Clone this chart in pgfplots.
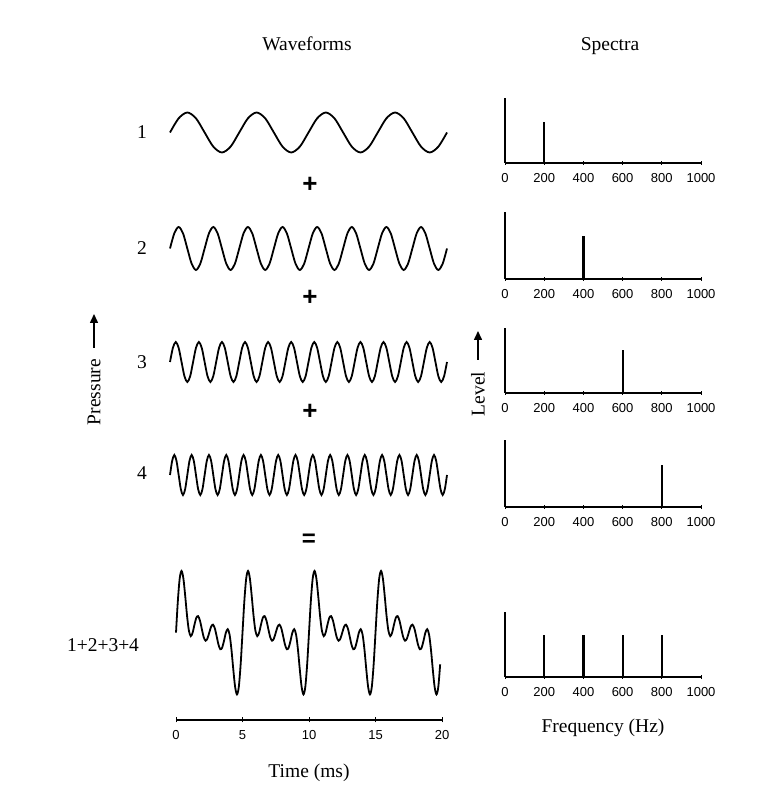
\documentclass[border=0pt]{standalone}
\usepackage{fontspec}
\setmainfont{Liberation Serif}
\newfontfamily\tickfont{Liberation Sans}
\usepackage{pgfplots}
\pgfplotsset{compat=1.18}
\usetikzlibrary{arrows.meta}

\newcommand\lbl{\fontsize{19.5}{22}\selectfont}
\newcommand\ticks{\tickfont\fontsize{13}{13}\selectfont}

\pgfplotsset{
  wave/.style={hide axis, scale only axis, width=277pt, height=40pt,
    xmin=0, ymin=-1, ymax=1, clip=false, anchor=south west},
  wline/.style={black, line width=1.8pt, smooth, no marks},
  spec/.style={scale only axis, width=196pt, xmin=0, xmax=1000, ymin=0, ymax=1,
    anchor=south west, clip=false,
    axis x line*=bottom, axis y line*=left, ytick=\empty,
    xtick={0,200,...,1000}, tick align=center, major tick length=4pt,
    axis line style={line width=1.5pt}, tick style={line width=1pt, black},
    tick label style={font=\ticks}, xticklabel style={yshift=-5pt},
    typeset ticklabels with strut,
    /pgf/number format/assume math mode=true,
    /pgf/number format/set thousands separator={}},
  bar/.style={ycomb, black, line width=2.2pt, no marks},
}

\begin{document}
\begin{tikzpicture}
\useasboundingbox (0pt,0pt) rectangle (765pt,794pt);

% titles and row labels
\node[font=\lbl] at (307pt,750pt) {Waveforms};
\node[font=\lbl] at (610pt,748pt) {Spectra};
\node[font=\lbl] at (142pt,662pt) {1};
\node[font=\lbl] at (142pt,546pt) {2};
\node[font=\lbl] at (142pt,432pt) {3};
\node[font=\lbl] at (142pt,321pt) {4};
\node[font=\lbl] at (103pt,149pt) {1+2+3+4};
\node[font=\tickfont\bfseries\fontsize{26}{26}\selectfont] at (310pt,609pt) {+};
\node[font=\tickfont\bfseries\fontsize{26}{26}\selectfont] at (310pt,496pt) {+};
\node[font=\tickfont\bfseries\fontsize{26}{26}\selectfont] at (310pt,382pt) {+};
\node[font=\tickfont\bfseries\fontsize{24}{24}\selectfont] at (309pt,254pt) {=};

% side labels
\node[font=\lbl, rotate=90] at (94pt,402pt) {Pressure};
\draw[line width=1.5pt, -{Triangle[length=9pt,width=8pt]}] (94pt,446pt) -- (94pt,480pt);
\node[font=\lbl, rotate=90] at (478pt,400pt) {Level};
\draw[line width=1.5pt, -{Triangle[length=9pt,width=8pt]}] (478pt,434pt) -- (478pt,463pt);

% ---- waveforms (x = sample index, 8 samples per cycle, 0..20 ms) ----
\begin{axis}[wave, at={(170pt,641.5pt)}, xmax=32]
\addplot[wline] coordinates {
(0,0)(1,.707)(2,1)(3,.707)(4,0)(5,-.707)(6,-1)(7,-.707)
(8,0)(9,.707)(10,1)(11,.707)(12,0)(13,-.707)(14,-1)(15,-.707)
(16,0)(17,.707)(18,1)(19,.707)(20,0)(21,-.707)(22,-1)(23,-.707)
(24,0)(25,.707)(26,1)(27,.707)(28,0)(29,-.707)(30,-1)(31,-.707)
(32,0)};
\end{axis}

\begin{axis}[wave, at={(170pt,524pt)}, height=43pt, xmax=64]
\addplot[wline] coordinates {
(0,0)(1,.707)(2,1)(3,.707)(4,0)(5,-.707)(6,-1)(7,-.707)
(8,0)(9,.707)(10,1)(11,.707)(12,0)(13,-.707)(14,-1)(15,-.707)
(16,0)(17,.707)(18,1)(19,.707)(20,0)(21,-.707)(22,-1)(23,-.707)
(24,0)(25,.707)(26,1)(27,.707)(28,0)(29,-.707)(30,-1)(31,-.707)
(32,0)(33,.707)(34,1)(35,.707)(36,0)(37,-.707)(38,-1)(39,-.707)
(40,0)(41,.707)(42,1)(43,.707)(44,0)(45,-.707)(46,-1)(47,-.707)
(48,0)(49,.707)(50,1)(51,.707)(52,0)(53,-.707)(54,-1)(55,-.707)
(56,0)(57,.707)(58,1)(59,.707)(60,0)(61,-.707)(62,-1)(63,-.707)
(64,0)};
\end{axis}

\begin{axis}[wave, at={(170pt,412pt)}, xmax=96]
\addplot[wline] coordinates {
(0,0)(1,.707)(2,1)(3,.707)(4,0)(5,-.707)(6,-1)(7,-.707)
(8,0)(9,.707)(10,1)(11,.707)(12,0)(13,-.707)(14,-1)(15,-.707)
(16,0)(17,.707)(18,1)(19,.707)(20,0)(21,-.707)(22,-1)(23,-.707)
(24,0)(25,.707)(26,1)(27,.707)(28,0)(29,-.707)(30,-1)(31,-.707)
(32,0)(33,.707)(34,1)(35,.707)(36,0)(37,-.707)(38,-1)(39,-.707)
(40,0)(41,.707)(42,1)(43,.707)(44,0)(45,-.707)(46,-1)(47,-.707)
(48,0)(49,.707)(50,1)(51,.707)(52,0)(53,-.707)(54,-1)(55,-.707)
(56,0)(57,.707)(58,1)(59,.707)(60,0)(61,-.707)(62,-1)(63,-.707)
(64,0)(65,.707)(66,1)(67,.707)(68,0)(69,-.707)(70,-1)(71,-.707)
(72,0)(73,.707)(74,1)(75,.707)(76,0)(77,-.707)(78,-1)(79,-.707)
(80,0)(81,.707)(82,1)(83,.707)(84,0)(85,-.707)(86,-1)(87,-.707)
(88,0)(89,.707)(90,1)(91,.707)(92,0)(93,-.707)(94,-1)(95,-.707)
(96,0)};
\end{axis}

\begin{axis}[wave, at={(170pt,299pt)}, xmax=128]
\addplot[wline] coordinates {
(0,0)(1,.707)(2,1)(3,.707)(4,0)(5,-.707)(6,-1)(7,-.707)
(8,0)(9,.707)(10,1)(11,.707)(12,0)(13,-.707)(14,-1)(15,-.707)
(16,0)(17,.707)(18,1)(19,.707)(20,0)(21,-.707)(22,-1)(23,-.707)
(24,0)(25,.707)(26,1)(27,.707)(28,0)(29,-.707)(30,-1)(31,-.707)
(32,0)(33,.707)(34,1)(35,.707)(36,0)(37,-.707)(38,-1)(39,-.707)
(40,0)(41,.707)(42,1)(43,.707)(44,0)(45,-.707)(46,-1)(47,-.707)
(48,0)(49,.707)(50,1)(51,.707)(52,0)(53,-.707)(54,-1)(55,-.707)
(56,0)(57,.707)(58,1)(59,.707)(60,0)(61,-.707)(62,-1)(63,-.707)
(64,0)(65,.707)(66,1)(67,.707)(68,0)(69,-.707)(70,-1)(71,-.707)
(72,0)(73,.707)(74,1)(75,.707)(76,0)(77,-.707)(78,-1)(79,-.707)
(80,0)(81,.707)(82,1)(83,.707)(84,0)(85,-.707)(86,-1)(87,-.707)
(88,0)(89,.707)(90,1)(91,.707)(92,0)(93,-.707)(94,-1)(95,-.707)
(96,0)(97,.707)(98,1)(99,.707)(100,0)(101,-.707)(102,-1)(103,-.707)
(104,0)(105,.707)(106,1)(107,.707)(108,0)(109,-.707)(110,-1)(111,-.707)
(112,0)(113,.707)(114,1)(115,.707)(116,0)(117,-.707)(118,-1)(119,-.707)
(120,0)(121,.707)(122,1)(123,.707)(124,0)(125,-.707)(126,-1)(127,-.707)
(128,0)};
\end{axis}

% ---- sum waveform, x in degrees of the 200 Hz cycle (360 = 5 ms) ----
\begin{axis}[scale only axis, width=266pt, height=154pt, at={(176pt,74pt)},
  anchor=south west, clip=false, xmin=0, xmax=1440, ymin=-4.57, ymax=3.49,
  axis x line*=bottom, axis y line=none,
  xtick={0,360,...,1440}, xticklabels={0,5,10,15,20},
  typeset ticklabels with strut,
  tick align=center, major tick length=5pt,
  axis line style={line width=1.5pt}, tick style={line width=1pt, black},
  tick label style={font=\ticks}, xticklabel style={yshift=-4pt},
  xlabel={Time (ms)},
  every axis x label/.style={at={(axis description cs:0.5,0)}, anchor=center,
    yshift=-53pt, font=\lbl}]
\addplot[wline] coordinates {
(0,0)(10,1.658)(20,2.836)(30,3.232)(40,2.836)(50,1.909)(60,0.866)(70,0.098)(80,-0.182)
(90,0)(100,0.420)(110,0.782)(120,0.866)(130,0.623)(140,0.182)(150,-0.232)(160,-0.420)(170,-0.311)
(180,0)(190,0.311)(200,0.420)(210,0.232)(220,-0.182)(230,-0.623)(240,-0.866)(250,-0.782)(260,-0.420)
(270,0)(280,0.182)(290,-0.098)(300,-0.866)(310,-1.909)(320,-2.836)(330,-3.232)(340,-2.836)(350,-1.658)
(360,0)(370,1.658)(380,2.836)(390,3.232)(400,2.836)(410,1.909)(420,0.866)(430,0.098)(440,-0.182)
(450,0)(460,0.420)(470,0.782)(480,0.866)(490,0.623)(500,0.182)(510,-0.232)(520,-0.420)(530,-0.311)
(540,0)(550,0.311)(560,0.420)(570,0.232)(580,-0.182)(590,-0.623)(600,-0.866)(610,-0.782)(620,-0.420)
(630,0)(640,0.182)(650,-0.098)(660,-0.866)(670,-1.909)(680,-2.836)(690,-3.232)(700,-2.836)(710,-1.658)
(720,0)(730,1.658)(740,2.836)(750,3.232)(760,2.836)(770,1.909)(780,0.866)(790,0.098)(800,-0.182)
(810,0)(820,0.420)(830,0.782)(840,0.866)(850,0.623)(860,0.182)(870,-0.232)(880,-0.420)(890,-0.311)
(900,0)(910,0.311)(920,0.420)(930,0.232)(940,-0.182)(950,-0.623)(960,-0.866)(970,-0.782)(980,-0.420)
(990,0)(1000,0.182)(1010,-0.098)(1020,-0.866)(1030,-1.909)(1040,-2.836)(1050,-3.232)(1060,-2.836)(1070,-1.658)
(1080,0)(1090,1.658)(1100,2.836)(1110,3.232)(1120,2.836)(1130,1.909)(1140,0.866)(1150,0.098)(1160,-0.182)
(1170,0)(1180,0.420)(1190,0.782)(1200,0.866)(1210,0.623)(1220,0.182)(1230,-0.232)(1240,-0.420)(1250,-0.311)
(1260,0)(1270,0.311)(1280,0.420)(1290,0.232)(1300,-0.182)(1310,-0.623)(1320,-0.866)(1330,-0.782)(1340,-0.420)
(1350,0)(1360,0.182)(1370,-0.098)(1380,-0.866)(1390,-1.909)(1400,-2.836)(1410,-3.232)(1420,-2.836)(1430,-1.658)};
\end{axis}

% ---- spectra ----
\begin{axis}[spec, at={(505pt,631pt)}, height=65pt]
\addplot[bar] coordinates {(200,0.63)};
\end{axis}
\begin{axis}[spec, at={(505pt,515pt)}, height=67pt]
\addplot[bar] coordinates {(400,0.64)};
\end{axis}
\begin{axis}[spec, at={(505pt,401pt)}, height=65pt]
\addplot[bar] coordinates {(600,0.66)};
\end{axis}
\begin{axis}[spec, at={(505pt,287pt)}, height=67pt]
\addplot[bar] coordinates {(800,0.63)};
\end{axis}
\begin{axis}[spec, at={(505pt,117pt)}, height=65pt,
  xlabel={Frequency (Hz)},
  every axis x label/.style={at={(axis description cs:0.5,0)}, anchor=center,
    yshift=-51pt, font=\lbl}]
\addplot[bar] coordinates {(200,0.65) (400,0.65) (600,0.65) (800,0.65)};
\end{axis}
\end{tikzpicture}
\end{document}
